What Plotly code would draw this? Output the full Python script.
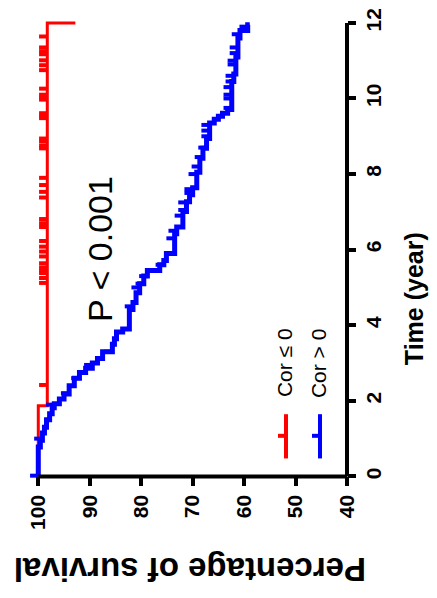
import plotly.graph_objects as go
import numpy as np

# ---------------- data ----------------
# Kaplan-Meier: Cor <= 0 (red)
red_event_times = [0.0, 1.87, 12.0]
red_surv = [100.0, 98.25, 92.8]
red_censor_times = [2.42, 5.12, 5.25, 5.38, 5.45, 5.53, 5.64, 5.82, 5.95, 6.08, 6.23,
                    6.60, 6.70, 6.81, 7.38, 7.53, 7.71, 7.90, 8.68, 8.75, 8.86, 8.94,
                    9.48, 9.53, 9.61, 9.97, 10.03, 10.10, 10.26, 10.75, 10.88, 11.01,
                    11.17, 11.25, 11.35, 11.64]

# Kaplan-Meier: Cor > 0 (blue)
blue_event_times = [0.0, 0.78, 0.96, 1.15, 1.30, 1.50, 1.66, 1.82, 1.92, 2.05, 2.18,
                    2.40, 2.60, 2.75, 2.86, 3.00, 3.12, 3.30, 3.50, 3.64, 3.82, 3.90,
                    4.42, 4.60, 4.86, 5.10, 5.30, 5.45, 5.60, 5.71, 5.90, 6.42, 6.60,
                    7.01, 7.27, 7.45, 7.64, 8.05, 8.42, 8.68, 8.94, 9.35, 9.45, 9.53,
                    9.61, 9.71, 10.45, 10.65, 11.10, 11.60, 11.80, 11.95]
blue_surv = [100.0, 99.6, 99.2, 98.8, 98.4, 97.8, 97.3, 96.9, 95.9, 95.0, 94.0,
             93.0, 92.0, 90.8, 89.5, 88.5, 87.5, 85.6, 85.2, 84.8, 83.6, 82.3,
             81.6, 81.0, 80.3, 79.5, 78.8, 76.4, 75.6, 75.1, 73.5, 73.1, 71.9,
             71.2, 70.6, 70.0, 69.2, 68.6, 68.0, 67.3, 66.7, 65.8, 65.0, 64.2,
             63.2, 62.4, 62.0, 61.6, 61.2, 60.8, 59.3, 58.9]
blue_censor_times = [0.02, 1.0, 1.9, 2.2, 2.6, 2.95, 3.3, 4.5, 5.0, 5.1, 5.3, 5.45, 5.6,
                     5.9, 6.3, 6.5, 6.9, 7.05, 7.25, 7.5, 7.6, 8.0, 8.2, 8.45, 8.7,
                     9.0, 9.15, 9.3, 9.75, 10.0, 10.1, 10.3, 10.45, 10.6, 10.9, 11.0,
                     11.2, 11.35, 11.7, 11.9]

x_ticks = [100, 90, 80, 70, 60, 50, 40]
y_ticks = [0, 2, 4, 6, 8, 10, 12]

RED = "#FF0000"
BLUE = "#0000FF"
FONT = "Liberation Sans, Arial, sans-serif"

# ---------------- layout geometry ----------------
OFF = 8                      # page body margin
W, H = 437 - OFF, 598 - OFF
ML, MR, MT, MB = 20, 90, 0, 114
PW, PH = W - ML - MR, H - MT - MB
XR = [102, 40]
YR = [-0.2, 12.182]


def px(xs, ys):
    xf, yf = xs - OFF, ys - OFF
    return (xf - ML) / PW, 1 - (yf - MT) / PH


def surv_at(times, surv, t):
    idx = np.searchsorted(times, t, side="right") - 1
    return surv[max(idx, 0)]


def censor_segments(times, surv, ctimes, length=1.6):
    xs, ys = [], []
    for ct in ctimes:
        s = surv_at(times, surv, ct)
        xs += [s, s + length, None]
        ys += [ct, ct, None]
    return xs, ys


fig = go.Figure()

for times, surv, ctimes, col, lw in [
    (red_event_times, red_surv, red_censor_times, RED, 3),
    (blue_event_times, blue_surv, blue_censor_times, BLUE, 5),
]:
    fig.add_trace(go.Scatter(x=surv, y=times, mode="lines",
                             line=dict(color=col, width=lw, shape="vh"),
                             showlegend=False, hoverinfo="skip"))
    cx, cy = censor_segments(np.array(times), surv, ctimes)
    fig.add_trace(go.Scatter(x=cx, y=cy, mode="lines",
                             line=dict(color=col, width=4),
                             showlegend=False, hoverinfo="skip"))

shapes = []
# axis lines
shapes.append(dict(type="line", xref="x", yref="y", x0=100, x1=40, y0=0, y1=0,
                   line=dict(color="black", width=4), layer="above"))
shapes.append(dict(type="line", xref="paper", yref="y", x0=1, x1=1, y0=0, y1=12,
                   line=dict(color="black", width=4), layer="above"))

# legend samples
for xc, col in [(286, RED), (320, BLUE)]:
    a = px(xc, 413); b = px(xc, 458)
    shapes.append(dict(type="line", xref="paper", yref="paper", x0=a[0], x1=b[0],
                       y0=a[1], y1=b[1], line=dict(color=col, width=4)))
    a = px(xc - 8, 435); b = px(xc, 435)
    shapes.append(dict(type="line", xref="paper", yref="paper", x0=a[0], x1=b[0],
                       y0=a[1], y1=b[1], line=dict(color=col, width=4)))

annotations = []


def ann(text, xs, ys, angle, size, bold=False):
    x, y = px(xs, ys)
    annotations.append(dict(text=text, x=x, y=y, xref="paper", yref="paper",
                            showarrow=False, textangle=angle, xanchor="center",
                            yanchor="middle",
                            font=dict(family=FONT, size=size, color="black",
                                      weight="bold" if bold else "normal")))


ann("Percentage of survival", 190, 571, 180, 33, True)
ann("Time (year)", 414, 296, -90, 25, True)
ann("P &lt; 0.001", 100, 245, -90, 34)
ann("Cor ≤ 0", 284, 361, -90, 21)
ann("Cor &gt; 0", 318, 362, -90, 21)

fig.update_layout(
    width=W, height=H,
    margin=dict(l=ML, r=MR, t=MT, b=MB, pad=0),
    paper_bgcolor="white", plot_bgcolor="white",
    shapes=shapes, annotations=annotations,
    showlegend=False,
    xaxis=dict(range=XR, tickvals=x_ticks, ticktext=[str(v) for v in x_ticks],
               showgrid=False, zeroline=False, showline=False,
               ticks="outside", ticklen=9, tickwidth=4, tickcolor="black",
               tickangle=-90, anchor="free", position=0.2 / (YR[1] - YR[0]),
               ticklabeloverflow="allow",
               tickfont=dict(family=FONT, size=21, color="black", weight="bold")),
    yaxis=dict(range=YR, tickvals=y_ticks, ticktext=[str(v) for v in y_ticks],
               side="right", showgrid=False, zeroline=False, showline=False,
               ticks="outside", ticklen=8, tickwidth=4, tickcolor="black",
               tickangle=-90, anchor="free", position=1,
               ticklabeloverflow="allow",
               tickfont=dict(family=FONT, size=21, color="black", weight="bold")),
)

fig.write_html("out.html")
